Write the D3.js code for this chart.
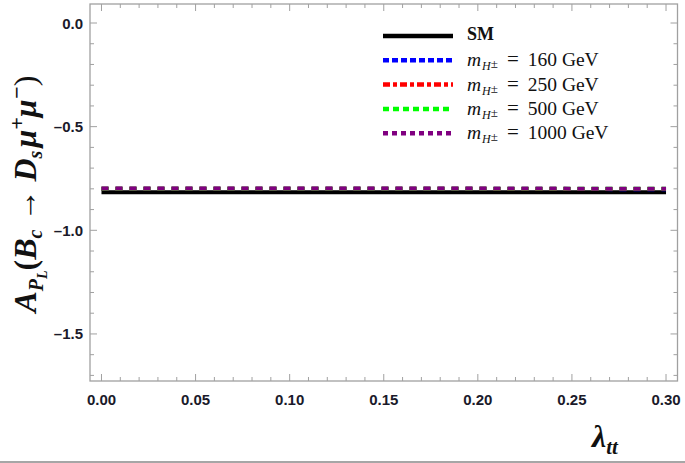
<!DOCTYPE html>
<html>
<head>
<meta charset="utf-8">
<script src="https://cdn.jsdelivr.net/npm/d3@7"></script>
<style>
  body { margin: 0; background: #fff; }
  text { font-family: "Liberation Sans", Arial, sans-serif; }
  .serif { font-family: "Liberation Serif", "Times New Roman", serif; }
</style>
</head>
<body>
<svg id="vis" width="685" height="463"></svg>
<script>
// lambda_tt sample points and asymmetry values
const lambdaTT = [0.00, 0.05, 0.10, 0.15, 0.20, 0.25, 0.30];
const smValues = [-0.817, -0.817, -0.817, -0.817, -0.817, -0.817, -0.817];
const m160Values = [-0.799, -0.799, -0.799, -0.800, -0.800, -0.801, -0.802];
const m250Values = [-0.799, -0.799, -0.799, -0.800, -0.800, -0.801, -0.801];
const m500Values = [-0.799, -0.799, -0.799, -0.799, -0.800, -0.800, -0.800];
const m1000Values = [-0.798, -0.798, -0.798, -0.798, -0.798, -0.799, -0.799];

const seriesNames = ["SM", "160", "250", "500", "1000"];
const seriesColors = ["#000000", "#0000ff", "#ff0000", "#00ff00", "#800080"];
const seriesValues = [smValues, m160Values, m250Values, m500Values, m1000Values];
const plotDash = [null, "7,7", "7,7", "7,7", "7,7"];
const legendDash = [null, "6,3", "7,3,4,3", "6,4", "5,4"];

const xTicks = [0.00, 0.05, 0.10, 0.15, 0.20, 0.25, 0.30];
const xMinor = d3.range(-0.00, 0.3051, 0.01);
const yTicks = [0.0, -0.5, -1.0, -1.5];
const yMinor = d3.range(0.0, -1.75, -0.1);

let svg = d3.select("#vis");
let pLeft = 90, pRight = 677.5, pTop = 4, pBottom = 381;

let x = d3.scaleLinear().domain([-0.0061, 0.3061]).range([pLeft, pRight]);
let y = d3.scaleLinear().domain([0.0917, -1.727]).range([pTop, pBottom]);

// frame
svg.append("rect")
    .attr("x", pLeft).attr("y", pTop)
    .attr("width", pRight - pLeft).attr("height", pBottom - pTop)
    .attr("fill", "none").attr("stroke", "#a0a0a0").attr("stroke-width", 1.3);

// ticks, Mathematica style (pointing inward)
let tickG = svg.append("g").attr("stroke", "#a0a0a0").attr("stroke-width", 1);
xMinor.forEach(function (v) {
    let major = xTicks.some(t => Math.abs(t - v) < 1e-6);
    let len = major ? 7 : 4;
    tickG.append("line").attr("x1", x(v)).attr("x2", x(v)).attr("y1", pBottom).attr("y2", pBottom - len);
    tickG.append("line").attr("x1", x(v)).attr("x2", x(v)).attr("y1", pTop).attr("y2", pTop + len);
});
yMinor.forEach(function (v) {
    let major = yTicks.some(t => Math.abs(t - v) < 1e-6);
    let len = major ? 7 : 4;
    tickG.append("line").attr("y1", y(v)).attr("y2", y(v)).attr("x1", pLeft).attr("x2", pLeft + len);
    tickG.append("line").attr("y1", y(v)).attr("y2", y(v)).attr("x1", pRight).attr("x2", pRight - len);
});

// tick labels
svg.append("g").selectAll("text")
    .data(xTicks).enter().append("text")
    .attr("x", d => x(d)).attr("y", 405)
    .attr("text-anchor", "middle")
    .attr("font-size", 15).attr("font-weight", "bold").attr("fill", "#1a1a2a")
    .text(d => d3.format(".2f")(d));

svg.append("g").selectAll("text")
    .data(yTicks).enter().append("text")
    .attr("x", 83).attr("y", d => y(d) + 5.5)
    .attr("text-anchor", "end")
    .attr("font-size", 15).attr("font-weight", "bold").attr("fill", "#1a1a2a")
    .text(d => d3.format(".1f")(d).replace("-", "\u2013").replace("\u2212", "\u2013"));

// curves
let line = d3.line()
    .x((d, i) => x(lambdaTT[i]))
    .y(d => y(d));

seriesValues.forEach(function (vals, i) {
    svg.append("path")
        .attr("d", line(vals))
        .attr("fill", "none")
        .attr("stroke", seriesColors[i])
        .attr("stroke-width", 4)
        .attr("stroke-dasharray", plotDash[i]);
});

// legend
let legend = svg.append("g");
seriesNames.forEach(function (name, i) {
    let ly = 36 + i * 24.3;
    legend.append("line")
        .attr("x1", 383).attr("x2", 453)
        .attr("y1", ly).attr("y2", ly)
        .attr("stroke", seriesColors[i])
        .attr("stroke-width", 4.5)
        .attr("stroke-dasharray", legendDash[i]);
    let t = legend.append("text").attr("class", "serif")
        .attr("x", 467).attr("y", ly + 6)
        .attr("font-size", 19.5).attr("fill", "#111");
    if (name === "SM") {
        t.attr("font-weight", "bold").attr("font-size", 18).attr("y", ly + 4).text("SM");
    } else {
        t.append("tspan").attr("font-style", "italic").text("m");
        t.append("tspan").attr("font-style", "italic").attr("font-size", 12).attr("dy", 4).attr("dx", 1).text("H");
        t.append("tspan").attr("font-size", 13).attr("dy", -2).text("\u00b1");
        t.append("tspan").attr("font-size", 21).attr("dy", -2).attr("dx", 9).text("=");
        t.append("tspan").attr("dx", 9).text(name + " GeV");
    }
});

// y axis label
let yl = svg.append("text").attr("class", "serif")
    .attr("transform", "translate(36,194) rotate(-90)")
    .attr("text-anchor", "middle")
    .attr("font-size", 32).attr("font-weight", "bold").attr("font-style", "italic")
    .attr("fill", "#111");
yl.append("tspan").text("A");
yl.append("tspan").attr("font-size", 20).attr("dy", 7).text("P");
yl.append("tspan").attr("font-size", 14).attr("dy", 4).text("L");
yl.append("tspan").attr("font-style", "normal").attr("dy", -11).text("(");
yl.append("tspan").text("B");
yl.append("tspan").attr("font-size", 20).attr("dy", 6).text("c");
yl.append("tspan").attr("font-style", "normal").attr("font-weight", "normal").attr("dy", -6).text(" \u2192 ");
yl.append("tspan").text("D");
yl.append("tspan").attr("font-size", 20).attr("dy", 6).text("s");
yl.append("tspan").attr("dy", -6).attr("dx", 3).text("\u03bc");
yl.append("tspan").attr("font-size", 22).attr("dy", -12).text("+");
yl.append("tspan").attr("dy", 12).text("\u03bc");
yl.append("tspan").attr("font-size", 22).attr("dy", -12).text("\u2212");
yl.append("tspan").attr("font-style", "normal").attr("font-weight", "normal").attr("dy", 12).text(")");

// x axis label
let xl = svg.append("text").attr("class", "serif")
    .attr("x", 592).attr("y", 447)
    .attr("font-size", 32).attr("font-weight", "bold").attr("font-style", "italic")
    .attr("fill", "#111");
xl.append("tspan").text("\u03bb");
xl.append("tspan").attr("font-size", 21).attr("dy", 7).text("tt");

// bottom rule of the image
svg.append("line")
    .attr("x1", 0).attr("x2", 685).attr("y1", 462).attr("y2", 462)
    .attr("stroke", "#888").attr("stroke-width", 1.5);
</script>
</body>
</html>
